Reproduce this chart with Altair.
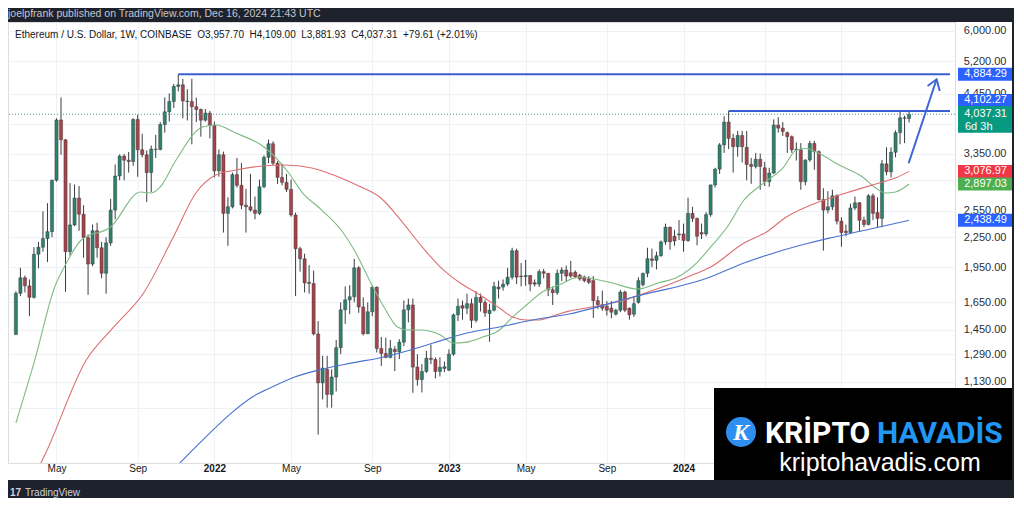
import altair as alt
import pandas as pd
import numpy as np

# ---------------- data ----------------
first_week = "2021-03-01"   # weekly candles, Monday open

opens = [1417, 1723, 1855, 1785, 1690, 2075, 2145, 2235, 2310, 2950,
         3930, 3575, 2100, 2385, 2710, 2510, 2245, 1980, 2320, 2140,
         1895, 2190, 2560, 3010, 3310, 3245, 3225, 3940, 3410, 3330,
         3060, 3420, 3415, 3845, 4085, 4290, 4610, 4645, 4300, 4290,
         4185, 4130, 3925, 4060, 3830, 3085, 3330, 2520, 2600, 3030,
         2880, 2620, 2600, 2560, 2520, 2860, 3290, 3510, 3200, 2990,
         2920, 2825, 2500, 2130, 2030, 1815, 1805, 1420, 1125, 1200,
         1065, 1157, 1330, 1593, 1670, 1695, 1945, 1614, 1421, 1578,
         1774, 1325, 1294, 1270, 1320, 1305, 1366, 1593, 1630, 1213,
         1143, 1188, 1265, 1258, 1188, 1205, 1195, 1290, 1555, 1625,
         1605, 1640, 1515, 1690, 1650, 1565, 1590, 1760, 1775, 1800,
         1860, 2110, 1870, 1865, 1875, 1812, 1800, 1910, 1895, 1752,
         1728, 1895, 1925, 1900, 1905, 1878, 1862, 1845, 1830, 1664,
         1633, 1620, 1605, 1560, 1590, 1733, 1605, 1560, 1650, 1795,
         1895, 2030, 2015, 2060, 2200, 2360, 2260, 2275, 2285, 2215,
         2520, 2460, 2300, 2285, 2505, 2885, 3110, 3490, 3890, 3600,
         3460, 3650, 3450, 3180, 3150, 3260, 3130, 2930, 3053, 3836,
         3780, 3700, 3630, 3410, 3410, 2930, 3250, 3515, 3380, 2690,
         2560, 2600, 2740, 2428, 2315, 2300, 2586, 2650, 2440, 2390,
         2740, 2530, 2460, 3190, 3070, 3370, 3700, 3970, 3957.70]

highs = [1740, 1945, 1875, 1840, 2145, 2200, 2545, 2645, 2960, 3960,
         4375, 3590, 2910, 2890, 2870, 2620, 2280, 2390, 2410, 2200,
         2250, 2700, 3180, 3335, 3340, 3375, 3960, 4030, 3680, 3400,
         3480, 3660, 3890, 4375, 4460, 4665, 4884, 4775, 4550, 4780,
         4370, 4150, 4140, 4100, 3900, 3415, 3380, 2720, 3060, 3280,
         3200, 2830, 3040, 2730, 2960, 3320, 3580, 3550, 3230, 3190,
         3040, 2960, 2530, 2150, 2080, 1970, 1920, 1510, 1280, 1280,
         1200, 1380, 1650, 1780, 1790, 2030, 1960, 1690, 1650, 1790,
         1780, 1400, 1395, 1380, 1340, 1385, 1665, 1680, 1680, 1290,
         1230, 1310, 1350, 1270, 1270, 1245, 1320, 1565, 1680, 1665,
         1720, 1680, 1740, 1720, 1670, 1640, 1820, 1830, 1840, 1945,
         2140, 2130, 1990, 2020, 1880, 1840, 1930, 1935, 1895, 1780,
         1930, 1950, 1965, 2010, 1920, 1890, 1875, 1870, 1870, 1700,
         1745, 1660, 1660, 1600, 1750, 1745, 1610, 1700, 1860, 1900,
         2140, 2130, 2100, 2215, 2400, 2365, 2330, 2440, 2400, 2715,
         2600, 2470, 2400, 2535, 2890, 3130, 3520, 4000, 4102, 3680,
         3730, 3730, 3730, 3280, 3360, 3350, 3220, 3130, 3940, 3980,
         3890, 3720, 3650, 3530, 3520, 3260, 3560, 3560, 3400, 2840,
         2800, 2820, 2760, 2475, 2390, 2640, 2730, 2660, 2480, 2760,
         2770, 2720, 3250, 3450, 3450, 3740, 4090, 4010, 4109.00]

lows = [1412, 1700, 1730, 1545, 1680, 1940, 2100, 2000, 2250, 2930,
        3330, 1735, 2060, 2370, 2320, 2040, 1710, 1960, 2040, 1850,
        1720, 2160, 2450, 2950, 2950, 3060, 3160, 3000, 3290, 2660,
        2790, 3280, 3400, 3700, 3900, 4160, 4500, 3960, 3920, 3500,
        3890, 3630, 3900, 3600, 2990, 3000, 2300, 2160, 2580, 2850,
        2570, 2300, 2540, 2450, 2500, 2840, 3200, 3170, 2900, 2880,
        2790, 2480, 1700, 1910, 1730, 1720, 1410, 880, 1040, 1000,
        1000, 1080, 1290, 1490, 1560, 1650, 1570, 1410, 1420, 1545,
        1300, 1220, 1265, 1265, 1190, 1260, 1340, 1500, 1073, 1110,
        1075, 1180, 1230, 1150, 1160, 1185, 1190, 1280, 1510, 1520,
        1560, 1460, 1500, 1580, 1540, 1368, 1580, 1680, 1745, 1785,
        1840, 1800, 1780, 1785, 1740, 1780, 1775, 1850, 1700, 1630,
        1710, 1825, 1820, 1855, 1850, 1830, 1815, 1800, 1533, 1600,
        1585, 1550, 1530, 1550, 1575, 1575, 1520, 1540, 1640, 1780,
        1860, 1950, 1930, 2050, 2170, 2120, 2160, 2220, 2100, 2200,
        2420, 2165, 2230, 2260, 2480, 2850, 3040, 3360, 3420, 3060,
        3300, 3210, 2950, 2900, 3120, 2820, 2870, 2860, 3040, 3700,
        3640, 3360, 3360, 3240, 2820, 2880, 3220, 3100, 2680, 2111,
        2520, 2560, 2390, 2150, 2260, 2290, 2560, 2310, 2360, 2380,
        2440, 2360, 2360, 3020, 2990, 3290, 3500, 3520, 3881.93]

closes = [1723, 1855, 1785, 1690, 2075, 2145, 2235, 2310, 2950, 3930,
          3575, 2100, 2385, 2710, 2510, 2245, 1980, 2320, 2140, 1895,
          2190, 2560, 3010, 3310, 3245, 3225, 3940, 3410, 3330, 3060,
          3420, 3415, 3845, 4085, 4290, 4610, 4645, 4300, 4290, 4185,
          4130, 3925, 4060, 3830, 3085, 3330, 2520, 2600, 3030, 2880,
          2620, 2600, 2560, 2520, 2860, 3290, 3510, 3200, 2990, 2920,
          2825, 2500, 2130, 2030, 1810, 1805, 1420, 1125, 1207, 1065,
          1157, 1330, 1593, 1670, 1695, 1945, 1614, 1421, 1578, 1774,
          1325, 1294, 1270, 1325, 1305, 1366, 1593, 1630, 1213, 1143,
          1188, 1265, 1258, 1188, 1212, 1215, 1290, 1555, 1620, 1605,
          1640, 1515, 1690, 1650, 1570, 1590, 1780, 1775, 1800, 1860,
          2110, 1860, 1865, 1875, 1800, 1800, 1910, 1895, 1752, 1728,
          1895, 1925, 1870, 1870, 1862, 1845, 1830, 1815, 1664, 1633,
          1605, 1590, 1575, 1590, 1733, 1590, 1555, 1640, 1830, 1895,
          2032, 2015, 2060, 2200, 2360, 2200, 2210, 2285, 2215, 2520,
          2460, 2260, 2285, 2505, 2885, 3110, 3490, 3890, 3600, 3460,
          3650, 3460, 3180, 3150, 3260, 3150, 2930, 3053, 3836, 3780,
          3720, 3630, 3410, 3420, 2930, 3247, 3515, 3380, 2690, 2560,
          2600, 2740, 2428, 2300, 2300, 2586, 2650, 2438, 2390, 2740,
          2520, 2460, 3190, 3070, 3370, 3700, 3970, 3960, 4037.31]

# moving averages, read at sampled weeks (week index from first_week)
ma20_weeks = [0, 4.2, 8.6, 11.2, 14.5, 21, 27.6, 30, 32, 35.5, 41.4, 44.3, 48.7,
              55.3, 60.5, 63.4, 67.8, 72.1, 75, 78.7, 81.6, 84.6, 86.8, 89.7, 94.1,
              96.9, 100, 103.5, 107.2, 110.1, 113.2, 116.7, 120.4, 124.8, 131.4,
              137.9, 142.3, 146.7, 151.1, 154, 157.7, 161.4, 165.8, 170.2, 173,
              175.2, 177.4, 182.5, 187.7, 190.6, 192.8, 195, 198]
ma20_values = [930, 1255, 1775, 1990, 2220, 2362, 2789, 2776, 2857, 3248, 3800, 3836, 3693,
               3439, 3053, 2789, 2560, 2328, 2117, 1809, 1614, 1468, 1447, 1447, 1413,
               1360, 1366, 1399, 1447, 1539, 1630, 1733, 1792, 1862, 1818,
               1758, 1809, 1862, 1999, 2147, 2362, 2685, 2911, 3141, 3406,
               3430, 3374, 3171, 2996, 2843, 2776, 2789, 2897.03]

ma50_weeks = [4, 6.4, 15.6, 21.7, 28.3, 34.9, 39.9, 44.3, 48.7, 54.6, 59.6, 65.6, 71.5,
              76.5, 80.9, 85.3, 89.7, 94.1, 98.5, 102.9, 107.2, 110.1, 113.2, 116,
              119.7, 122.6, 127.6, 135.1, 139.5, 144.5, 148.9, 154, 161.4, 166.4,
              170.8, 175.2, 177.4, 184, 192.1, 195, 198]
ma50_values = [720, 798, 1255, 1468, 1725, 2252, 2776, 3024, 3097, 3157, 3171, 3127, 2996,
               2857, 2711, 2441, 2168, 1952, 1809, 1709, 1606, 1539, 1517, 1517,
               1554, 1583, 1614, 1669, 1725, 1792, 1862, 1952, 2188, 2306,
               2477, 2597, 2647, 2776, 2925, 2981, 3076.97]

ma200_weeks = [32.7, 41.4, 48, 52.4, 56.8, 61.8, 67.1, 74.3, 81.6, 89.7, 92.5, 100,
               107.2, 114.5, 122.6, 136.8, 153.3, 161.4, 168.6, 175.2, 180.3, 187.7, 198]
ma200_values = [709, 857, 979, 1052, 1103, 1157, 1196, 1236, 1273, 1335, 1360, 1426,
                1468, 1517, 1561, 1693, 1853, 1990, 2095, 2180, 2240, 2320, 2438.49]

# drawings
level_prices = [4884.29, 4102.27]
level_start_weeks = [36, 158]
last_price = 4037.31
arrow_weeks = [197.9, 204.1, 202.1, 204.1, 204.8]
arrow_prices = [3198, 4768, 4619, 4768, 4510]
arrow_parts = ["shaft", "shaft", "head", "head", "head"]

# price-scale labels
label_prices = [4884.29, 3076.97, 2897.03, 2438.49]
label_texts = ["4,884.29", "3,076.97", "2,897.03", "2,438.49"]
label_colors = ["#2962ff", "#f23645", "#4caf50", "#2962ff"]

y_ticks = [6000, 5200, 4450, 3850, 3350, 2950, 2550, 2250, 1950, 1650, 1450, 1290, 1130, 1000]
x_ticks = ["2021-05-03", "2021-09-06", "2022-01-03", "2022-05-02", "2022-09-05",
           "2023-01-02", "2023-05-01", "2023-09-04", "2024-01-01", "2024-05-06", "2024-09-02"]

# ---------------- frames ----------------
t0 = pd.Timestamp(first_week)
def wk_to_date(ws):
    return [t0 + pd.Timedelta(days=7 * w) for w in ws]

dates = pd.date_range(t0, periods=len(closes), freq="7D")
UP, DOWN = "#2f806c", "#a3454b"
candles = pd.DataFrame({"date": dates, "open": opens, "high": highs, "low": lows, "close": closes})
candles["body"] = np.where(candles["close"] >= candles["open"], UP, DOWN)

ma = pd.concat([
    pd.DataFrame({"date": wk_to_date(ma20_weeks), "v": ma20_values, "s": "ma20"}),
    pd.DataFrame({"date": wk_to_date(ma50_weeks), "v": ma50_values, "s": "ma50"}),
    pd.DataFrame({"date": wk_to_date(ma200_weeks), "v": ma200_values, "s": "ma200"}),
])

x_end = pd.Timestamp("2025-02-17T12:00:00")
levels = pd.DataFrame({"start": wk_to_date(level_start_weeks), "end": [x_end] * 2, "price": level_prices})
arrow = pd.DataFrame({"date": wk_to_date(arrow_weeks), "price": arrow_prices, "part": arrow_parts,
                      "o": list(range(len(arrow_weeks)))})
labels = pd.DataFrame({"price": label_prices, "text": label_texts, "c": label_colors})
one = pd.DataFrame({"k": [0]})

# ---------------- scales / axes ----------------
FONT = "Liberation Sans"
xscale = alt.Scale(domain=[alt.DateTime(year=2021, month=2, date=24, hours=12),
                           alt.DateTime(year=2025, month=2, date=17, hours=12)])
yscale = alt.Scale(type="log", domain=[768.6, 6262], nice=False, zero=False)

def dt(s):
    y, m, d = (int(v) for v in s.split("-"))
    return alt.DateTime(year=y, month=m, date=d)

x_axis = alt.Axis(values=[dt(s) for s in x_ticks], title=None, domain=False, ticks=False, tickSize=0,
                  grid=True, gridColor="#eef1f6", labelColor="#131722", labelFontSize=10,
                  labelPadding=5, labelBaseline="middle",
                  labelExpr="month(datum.value) == 0 ? timeFormat(datum.value, '%Y') : timeFormat(datum.value, '%b')",
                  labelFontWeight={"condition": {"test": "month(datum.value) == 0", "value": "bold"},
                                   "value": "normal"})
y_axis = alt.Axis(values=y_ticks, orient="right", title=None, domain=False, ticks=False, tickSize=0,
                  grid=True, gridColor="#eef1f6", labelColor="#2a2e39", labelFontSize=11,
                  labelAlign="right", labelPadding=51, labelOverlap=False, format=",.2f")

def X(f="date:T"):
    return alt.X(f, scale=xscale, axis=x_axis)

def Y(f):
    return alt.Y(f, scale=yscale, axis=y_axis)

# ---------------- layers ----------------
wicks = alt.Chart(candles).mark_rule(strokeWidth=1, color="#3a3d40", clip=True).encode(
    X(), Y("low:Q"), y2="high:Q")
bodies = alt.Chart(candles).mark_bar(width=3.2, clip=True, stroke="#2a2e33", strokeWidth=0.4).encode(
    X(), Y("open:Q"), y2="close:Q", color=alt.Color("body:N", scale=None))

def ma_layer(name, color):
    return alt.Chart(ma[ma["s"] == name]).mark_line(strokeWidth=1.1, color=color, clip=True,
                                                     interpolate="monotone").encode(X(), Y("v:Q"))

ma20 = ma_layer("ma20", "#7dbb82")
ma50 = ma_layer("ma50", "#dc6f72")
ma200 = ma_layer("ma200", "#4a72d0")

lvl = alt.Chart(levels).mark_rule(strokeWidth=2, color="#3a5fd3").encode(
    X("start:T"), x2="end:T", y=Y("price:Q"))
last_line = alt.Chart(pd.DataFrame({"price": [last_price]})).mark_rule(
    strokeWidth=1, strokeDash=[1, 2], color="#4f9d8d").encode(y=Y("price:Q"))
arrow_l = alt.Chart(arrow).mark_line(strokeWidth=2, color="#3d66d6").encode(
    X(), Y("price:Q"), detail="part:N", order="o:Q")

# price-scale label boxes (x in pixels, y through the price scale)
box_cx = 977
boxes = alt.Chart(labels).mark_tick(orient="horizontal", size=54, thickness=13, opacity=1).encode(
    x=alt.value(box_cx), y=Y("price:Q"), color=alt.Color("c:N", scale=None))
box_txt = alt.Chart(labels).mark_text(align="right", baseline="middle", fontSize=11, color="white",
                                      font=FONT).encode(x=alt.value(999), y=Y("price:Q"), text="text:N")

last_df = pd.DataFrame({"price": [last_price], "t1": ["4,037.31"], "t2": ["6d 3h"]})
box_last = alt.Chart(last_df).mark_tick(orient="horizontal", size=54, thickness=27, yOffset=5,
                                        color="#089981", opacity=1).encode(x=alt.value(box_cx), y=Y("price:Q"))
txt_last1 = alt.Chart(last_df).mark_text(align="right", baseline="middle", fontSize=11, color="white",
                                         font=FONT).encode(x=alt.value(999), y=Y("price:Q"), text="t1:N")
txt_last2 = alt.Chart(last_df).mark_text(align="left", baseline="middle", fontSize=11, color="white",
                                         font=FONT, yOffset=13).encode(x=alt.value(957), y=Y("price:Q"), text="t2:N")

hi_df = pd.DataFrame({"price": [4102.27], "t": ["4,102.27"]})
box_hi = alt.Chart(hi_df).mark_tick(orient="horizontal", size=54, thickness=12, yOffset=-11,
                                    color="#2962ff", opacity=1).encode(x=alt.value(box_cx), y=Y("price:Q"))
txt_hi = alt.Chart(hi_df).mark_text(align="right", baseline="middle", fontSize=11, color="white",
                                    font=FONT, yOffset=-11).encode(x=alt.value(999), y=Y("price:Q"), text="t:N")

def rect(x1, x2, y1, y2, color):
    return alt.Chart(one).mark_rect(color=color, opacity=1).encode(
        x=alt.value(x1), x2=alt.value(x2), y=alt.value(y1), y2=alt.value(y2))

def label(text, x, y, **kw):
    return alt.Chart(one).mark_text(text=text, **kw).encode(x=alt.value(x), y=alt.value(y))

DARK = "#1e222d"
frame = [
    rect(-10, 1030, -40, 0, DARK),
    rect(-10, 1030, 458, 520, DARK),
    rect(1004, 1030, -40, 520, DARK),
]

header = [
    label("joelpfrank published on TradingView.com, Dec 16, 2024 21:43 UTC", 0, -8,
          align="left", baseline="middle", fontSize=10.5, color="#c3c6ce", font=FONT),
    label("Ethereum / U.S. Dollar, 1W, COINBASE\u00a0\u00a0O3,957.70\u00a0\u00a0H4,109.00\u00a0\u00a0"
          "L3,881.93\u00a0\u00a0C4,037.31\u00a0\u00a0+79.61 (+2.01%)", 7, 13,
          align="left", baseline="middle", fontSize=10, color="#131722", font=FONT),
    label("17", 2, 471, align="left", baseline="middle", fontSize=10, fontWeight="bold",
          color="#d1d4dc", font=FONT),
    label("TradingView", 17, 471, align="left", baseline="middle", fontSize=10,
          color="#d1d4dc", font=FONT),
]

LOGO_FONT = "Roboto"
watermark = [
    rect(706, 1004, 366, 458, "#000000"),
    alt.Chart(one).mark_circle(size=900, color="#2f8ff0", opacity=1).encode(
        x=alt.value(733), y=alt.value(410)),
    label("K", 733, 411, align="center", baseline="middle", fontSize=24, fontWeight="bold",
          fontStyle="italic", color="white", font="Liberation Serif"),
    label("KRİPTO", 757, 421, align="left", baseline="alphabetic", fontSize=30, fontWeight="bold",
          color="white", font=LOGO_FONT),
    label("HAVADİS", 869, 421, align="left", baseline="alphabetic", fontSize=30, fontWeight="bold",
          color="#2196f3", font=LOGO_FONT),
    label("kriptohavadis.com", 872, 449, align="center", baseline="alphabetic", fontSize=25,
          color="white", font=FONT),
]

chart = alt.layer(
    wicks, bodies, ma20, ma50, ma200, lvl, last_line, arrow_l,
    boxes, box_txt, box_last, txt_last1, txt_last2, box_hi, txt_hi,
    *watermark, *frame, *header,
).properties(
    width=947, height=441,
    autosize=alt.AutoSizeParams(type="none"),
    padding={"left": 0, "top": 14, "right": 59, "bottom": 35},
    background="white",
).configure_view(strokeWidth=0).configure(font=FONT)

chart.save("out.html", embed_options={"renderer": "svg", "actions": False})
